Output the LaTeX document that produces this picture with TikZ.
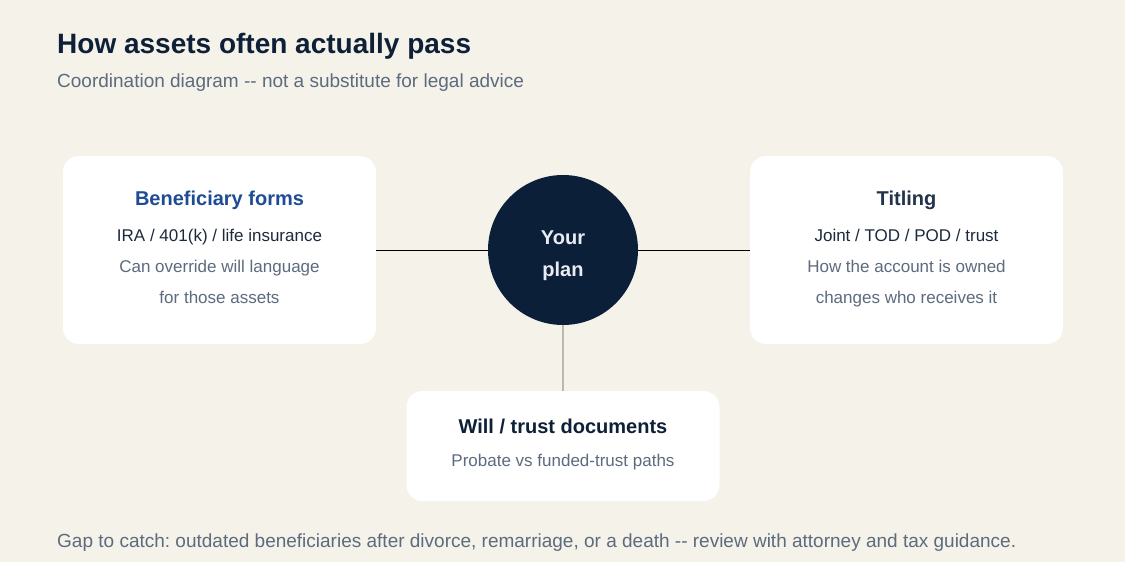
\documentclass[tikz,border=0pt]{standalone}
\usepackage{fontspec}
\setmainfont{Liberation Sans}[Ligatures=TeXOff]
\usepackage{tikz}
\usetikzlibrary{positioning}
\frenchspacing

\definecolor{pagebg}{HTML}{F5F2EA}
\definecolor{inkdark}{HTML}{0E2038}
\definecolor{inkhead}{HTML}{22344C}
\definecolor{inkline}{HTML}{1C2A3C}
\definecolor{inkgray}{HTML}{5C6B7D}
\definecolor{linkblue}{HTML}{1F4B93}
\definecolor{plannavy}{HTML}{0C1F38}
\definecolor{plantext}{HTML}{E9EDF3}
\definecolor{stemgray}{HTML}{BCB8B0}

\tikzset{
    card/.style={fill=white, rounded corners=16pt, minimum width=313pt, inner sep=0pt},
    cardhead/.style={anchor=base, inner sep=0pt, font=\fontsize{20}{24}\selectfont\bfseries},
    cardline/.style={anchor=base, inner sep=0pt, font=\fontsize{17}{20}\selectfont},
    textleft/.style={anchor=base west, inner sep=0pt, text=inkgray, font=\fontsize{19}{23}\selectfont},
}

\begin{document}
\begin{tikzpicture}[x=1pt,y=-1pt]
    \fill[pagebg] (0,0) rectangle (1125,562);
    \useasboundingbox (0,0) rectangle (1125,562);

    % heading
    \node[anchor=base west, inner sep=0pt, text=inkdark, font=\fontsize{28}{32}\selectfont\bfseries] (title) at (57,53) {How assets often actually pass};
    \node[textleft] (subtitle) at (57,87) {Coordination diagram -{}- not a substitute for legal advice};

    % cards and centre
    \node[card, minimum height=188pt] (benef) at (219.5,250) {};
    \node[card, minimum height=188pt] (titling) at (906.5,250) {};
    \node[card, minimum height=110pt] (will) at (563,446) {};
    \node[circle, fill=plannavy, minimum size=150pt, inner sep=0pt] (plan) at (563,250) {};

    % connectors
    \draw[line width=1pt, black] (benef.east) -- (plan.west);
    \draw[line width=1pt, black] (plan.east) -- (titling.west);
    \draw[line width=2pt, stemgray] (plan.south) -- (will.north);

    % centre text
    \node[cardhead, text=plantext] (your) at (563,244) {Your};
    \node[cardhead, text=plantext] (planword) at (563,276) {plan};

    % beneficiary forms
    \node[cardhead, text=linkblue] (benefhead) at (219.5,205) {Beneficiary forms};
    \node[cardline, text=inkline] (benefa) at (219.5,241) {IRA / 401(k) / life insurance};
    \node[cardline, text=inkgray] (benefb) at (219.5,272) {Can override will language};
    \node[cardline, text=inkgray] (benefc) at (219.5,303) {for those assets};

    % titling
    \node[cardhead, text=inkhead] (titlinghead) at (906.5,205) {Titling};
    \node[cardline, text=inkline] (titlinga) at (906.5,241) {Joint / TOD / POD / trust};
    \node[cardline, text=inkgray] (titlingb) at (906.5,272) {How the account is owned};
    \node[cardline, text=inkgray] (titlingc) at (906.5,303) {changes who receives it};

    % will / trust
    \node[cardhead, text=inkdark] (willhead) at (563,433) {Will / trust documents};
    \node[cardline, text=inkgray] (willa) at (563,466) {Probate vs funded-trust paths};

    % footer
    \node[textleft] (footer) at (57,547) {Gap to catch: outdated beneficiaries after divorce, remarriage, or a death -{}- review with attorney and tax guidance.};
\end{tikzpicture}
\end{document}
